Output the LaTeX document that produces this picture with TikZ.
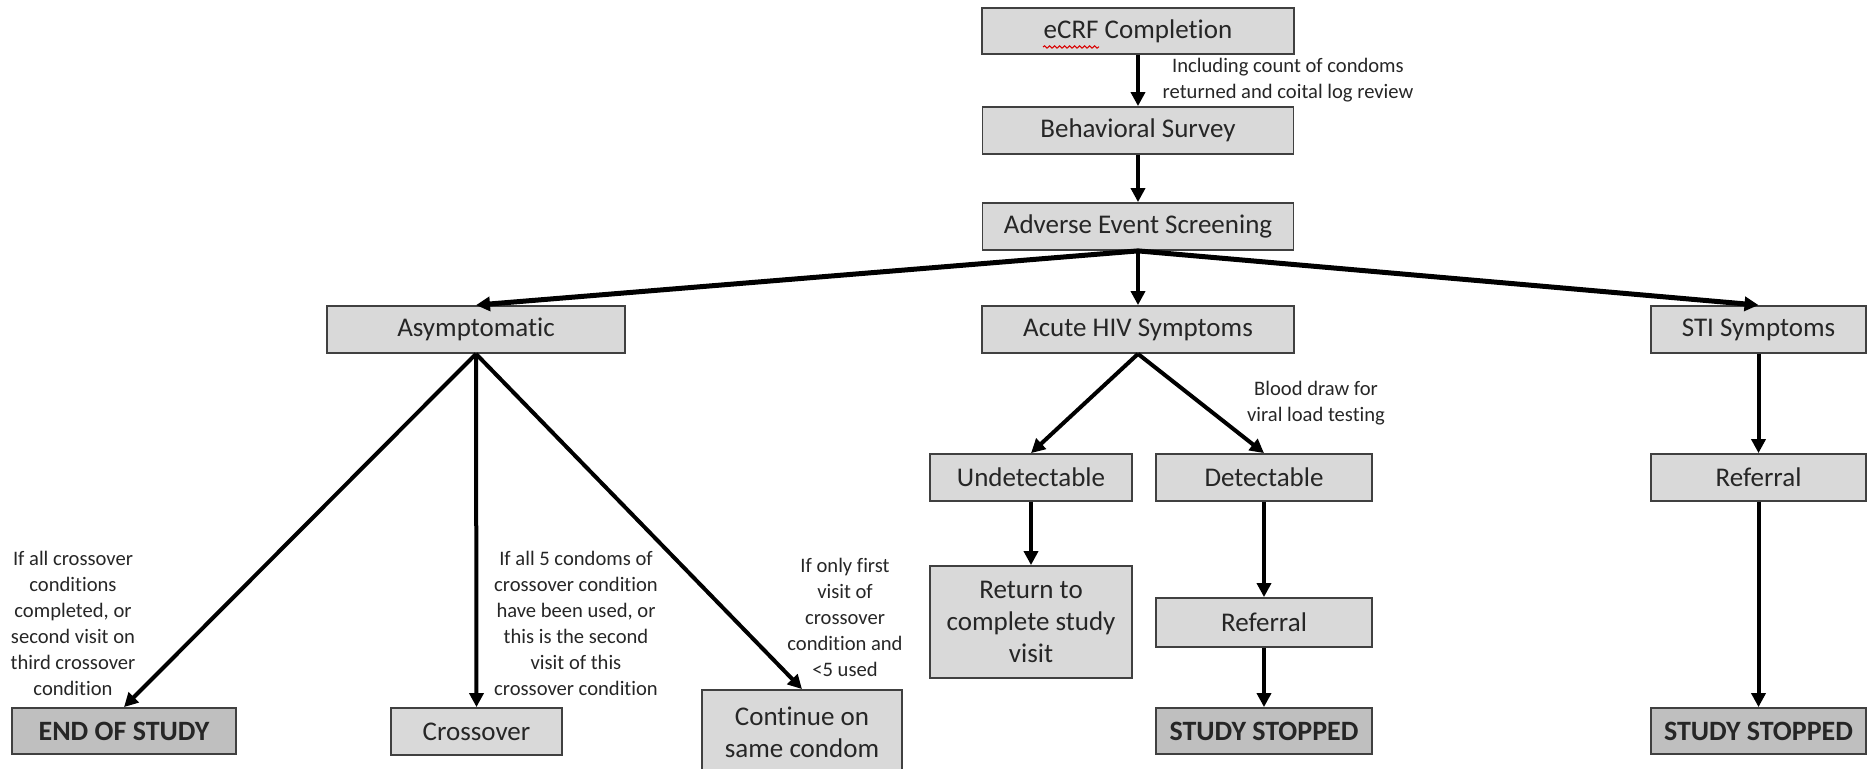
\documentclass[tikz,border=0pt]{standalone}
\usepackage{fontspec}
\setmainfont{Carlito}[Ligatures=NoCommon]
\usetikzlibrary{arrows.meta,decorations.pathmorphing}
\begin{document}
\begin{tikzpicture}[x=0.5pt,y=-0.5pt,
  box/.style={draw=black!75,line width=0.9pt,fill=black!15,inner sep=0pt,
    font=\fontsize{13.5}{16}\selectfont,text=black!85,align=center},
  endbox/.style={box,fill=black!25,font=\fontsize{14}{16}\selectfont\bfseries},
  note/.style={inner sep=0pt,align=center,font=\fontsize{10.3}{13}\selectfont,text=black!85},
  arr/.style={-{Triangle[length=7pt,width=7pt]},line width=2pt},
  warr/.style={arr,line width=2.5pt},
]
\useasboundingbox (0,0) rectangle (1873,769);

% top chain
\node[box,minimum width=156pt,minimum height=23pt] (ecrf) at (1138,31) {eCRF Completion};
\node[box,minimum width=155.5pt,minimum height=23.5pt] (behav) at (1138,130.5) {Behavioral Survey};
\node[box,minimum width=155.5pt,minimum height=23.5pt] (adv) at (1138,226.5) {Adverse Event Screening};

% second row
\node[box,minimum width=149pt,minimum height=23.5pt] (asym) at (476,329.5) {Asymptomatic};
\node[box,minimum width=156pt,minimum height=23.5pt] (acute) at (1138,329.5) {Acute HIV Symptoms};
\node[box,minimum width=107.5pt,minimum height=23.5pt] (sti) at (1758.5,329.5) {STI Symptoms};

% HIV branch
\node[box,minimum width=101pt,minimum height=23.5pt] (undet) at (1031,477.5) {Undetectable};
\node[box,minimum width=108pt,minimum height=23.5pt] (det) at (1264,477.5) {Detectable};
\node[box,minimum width=101pt,minimum height=56pt] (ret) at (1031,622) {Return to\\complete study\\visit};
\node[box,minimum width=108pt,minimum height=24.5pt] (ref1) at (1264,622.5) {Referral};
\node[endbox,minimum width=108pt,minimum height=23pt] (stop1) at (1264,731) {STUDY STOPPED};

% STI branch
\node[box,minimum width=107.5pt,minimum height=23.5pt] (ref2) at (1758.5,477.5) {Referral};
\node[endbox,minimum width=107.5pt,minimum height=23pt] (stop2) at (1758.5,731) {STUDY STOPPED};

% Asymptomatic branch
\node[endbox,minimum width=112pt,minimum height=23pt] (eos) at (124,731) {END OF STUDY};
\node[box,minimum width=85.5pt,minimum height=23.5pt] (cross) at (476.5,731.5) {Crossover};
\node[box,minimum width=100pt,minimum height=42.5pt] (cont) at (802,732.5) {Continue on\\same condom};

% notes
\node[note] (nincl) at (1288,80) {Including count of condoms\\returned and coital log review};
\node[note] (nblood) at (1316,403) {Blood draw for\\viral load testing};
\node[note] (neos) at (73,623.5) {If all crossover\\conditions\\completed, or\\second visit on\\third crossover\\condition};
\node[note] (ncross) at (576,623.5) {If all 5 condoms of\\crossover condition\\have been used, or\\this is the second\\visit of this\\crossover condition};
\node[note] (ncont) at (845,617) {If only first\\visit of\\crossover\\condition and\\<5 used};

% spell-check squiggle under eCRF
\draw[red!85!black,line width=0.5pt,decorate,decoration={snake,amplitude=0.6pt,segment length=2.5pt}]
  (1043,47) -- (1099,47);

% connectors
\draw[arr] (ecrf.south) -- (behav.north);
\draw[arr] (behav.south) -- (adv.north);
\draw[warr] (adv.south) -- (asym.north);
\draw[arr] (adv.south) -- (acute.north);
\draw[warr] (adv.south) -- (sti.north);
\draw[arr] (asym.south) -- (eos.north);
\draw[arr] (asym.south) -- (cross.north);
\draw[arr] (asym.south) -- (cont.north);
\draw[arr] (acute.south) -- (undet.north);
\draw[arr] (acute.south) -- (det.north);
\draw[arr] (undet.south) -- (ret.north);
\draw[arr] (det.south) -- (ref1.north);
\draw[arr] (ref1.south) -- (stop1.north);
\draw[arr] (sti.south) -- (ref2.north);
\draw[arr] (ref2.south) -- (stop2.north);
\end{tikzpicture}
\end{document}
